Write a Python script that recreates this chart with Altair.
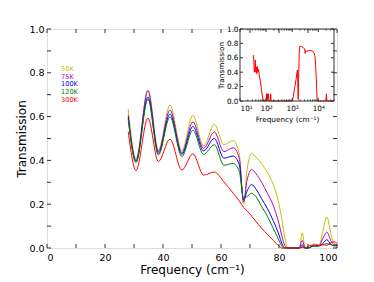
import altair as alt
import pandas as pd

# ---------------- data ----------------
temps = ["50K", "75K", "100K", "120K", "300K"]
colors = ["#bfbf00", "#bf00bf", "#0000ff", "#008000", "#ff0000"]

freq = [28, 30.7, 34.8, 38.4, 42.4, 46.5, 50.3, 54, 57.7, 61,
        64.2, 66.3, 67.8, 69, 70.6, 72, 74, 76, 78, 80,
        81, 82, 83, 84, 86, 87, 88, 89, 90, 91,
        92, 93, 94, 95, 96.5, 98, 99, 100]

t50 = [0.634, 0.408, 0.722, 0.448, 0.652, 0.445, 0.605, 0.465, 0.565, 0.472,
       0.490, 0.430, 0.200, 0.360, 0.432, 0.415, 0.385, 0.345, 0.290, 0.200,
       0.130, 0.050, 0.000, 0.000, 0.000, 0.000, 0.069, 0.005, 0.000, 0.008,
       0.020, 0.012, 0.018, 0.070, 0.142, 0.060, 0.020, 0.015]
t75 = [0.607, 0.400, 0.718, 0.440, 0.630, 0.435, 0.576, 0.455, 0.530, 0.440,
       0.458, 0.410, 0.210, 0.310, 0.358, 0.340, 0.300, 0.250, 0.195, 0.110,
       0.055, 0.012, 0.000, 0.000, 0.000, 0.000, 0.035, 0.000, 0.000, 0.005,
       0.015, 0.010, 0.012, 0.040, 0.073, 0.030, 0.015, 0.015]
t100 = [0.597, 0.395, 0.690, 0.432, 0.612, 0.428, 0.555, 0.443, 0.500, 0.410,
        0.420, 0.380, 0.220, 0.260, 0.290, 0.270, 0.225, 0.180, 0.125, 0.060,
        0.020, 0.000, 0.000, 0.000, 0.000, 0.000, 0.015, 0.000, 0.000, 0.005,
        0.010, 0.008, 0.010, 0.020, 0.038, 0.015, 0.010, 0.012]
t120 = [0.588, 0.390, 0.680, 0.425, 0.598, 0.418, 0.538, 0.427, 0.472, 0.378,
        0.386, 0.350, 0.225, 0.235, 0.250, 0.235, 0.190, 0.145, 0.090, 0.035,
        0.008, 0.000, 0.000, 0.000, 0.000, 0.000, 0.005, 0.000, 0.000, 0.005,
        0.008, 0.010, 0.012, 0.015, 0.020, 0.015, 0.010, 0.010]
t300 = [0.531, 0.354, 0.593, 0.395, 0.497, 0.356, 0.430, 0.333, 0.347, 0.302,
        0.250, 0.215, 0.185, 0.170, 0.145, 0.122, 0.090, 0.062, 0.035, 0.008,
        0.000, 0.000, 0.000, 0.000, 0.000, 0.000, 0.003, 0.000, 0.008, 0.012,
        0.010, 0.015, 0.012, 0.015, 0.012, 0.025, 0.028, 0.022]

# inset (log frequency) – 300 K broad-band transmission
inset_freq = [32, 34, 35.5, 37, 38.5, 40, 42, 44, 46, 48, 51, 55, 60, 66, 72, 78,
              100, 104, 108, 112, 116, 122, 128, 145, 150, 155, 350, 380, 400,
              1000, 1100, 1200, 1300, 1400, 1500, 1580, 1640, 1700, 1760, 1850,
              1950, 2300, 2700, 3000, 3150, 3300, 3700, 4300, 5200, 6200, 7000,
              7600, 8300, 9000, 9500, 19500, 20500, 21500, 40000]
inset_trans = [0.64, 0.55, 0.40, 0.43, 0.57, 0.40, 0.47, 0.38, 0.48, 0.40, 0.44, 0.35,
               0.28, 0.17, 0.07, 0.0,
               0.0, 0.10, 0.0, 0.10, 0.02, 0.10, 0.0, 0.0, 0.10, 0.0, 0.0, 0.01, 0.0,
               0.0, 0.06, 0.15, 0.22, 0.30, 0.38, 0.43, 0.25, 0.02, 0.30, 0.65,
               0.76, 0.755, 0.74, 0.72, 0.66, 0.70, 0.69, 0.70, 0.70, 0.69, 0.66,
               0.60, 0.35, 0.02, 0.0, 0.0, 0.10, 0.0, 0.0]

x_ticks = [0, 10, 20, 30, 40, 50, 60, 70, 80, 90, 100]
x_labels = [0, 20, 40, 60, 80, 100]
y_ticks = [0, 0.1, 0.2, 0.3, 0.4, 0.5, 0.6, 0.7, 0.8, 0.9, 1.0]
y_labels = [0, 0.2, 0.4, 0.6, 0.8, 1.0]
ix_major = [10, 100, 1000, 10000]
ix_minor = [20, 30, 40, 50, 60, 70, 80, 90, 200, 300, 400, 500, 600, 700, 800, 900,
            2000, 3000, 4000, 5000, 6000, 7000, 8000, 9000, 20000, 30000, 40000]
iy_ticks = [0, 0.2, 0.4, 0.6, 0.8, 1.0]

# ---------------- layout ----------------
W, H = 290, 219
IX0, IX1 = 193, 287      # inset x range inside plot area
IY1 = 72                 # inset bottom inside plot area
FC = "#333333"
FONT = "DejaVu Sans"

rows = []
for T, vals in zip(temps, [t50, t75, t100, t120, t300]):
    for f, v in zip(freq, vals):
        rows.append({"f": f, "t": v, "T": T})
main_df = pd.DataFrame(rows)

xs = alt.Scale(domain=[0, 100], nice=False, zero=False)
ys = alt.Scale(domain=[0, 1], nice=False)

main_x_axis = alt.Axis(
    values=x_labels, ticks=False, domain=False, grid=False,
    labelFontSize=9.5, labelPadding=4, labelFont=FONT, labelColor="black",
    title="Frequency (cm⁻¹)", titleFontSize=12, titleFont=FONT,
    titleFontWeight="normal", titleColor="black", titlePadding=3)
main_y_axis = alt.Axis(
    values=y_labels, format=".1f", ticks=False, domain=False, grid=False,
    labelFontSize=9.5, labelPadding=3, labelFont=FONT, labelColor="black",
    title="Transmission", titleFontSize=12, titleFont=FONT,
    titleFontWeight="normal", titleColor="black", titlePadding=0)

lines = alt.Chart(main_df).mark_line(strokeWidth=1, interpolate="monotone").encode(
    x=alt.X("f:Q", scale=xs, axis=main_x_axis),
    y=alt.Y("t:Q", scale=ys, axis=main_y_axis),
    color=alt.Color("T:N", scale=alt.Scale(domain=temps, range=colors), legend=None),
)

xt_df = pd.DataFrame({"f": x_ticks})
yt_df = pd.DataFrame({"t": y_ticks})
tick_kw = dict(color=FC, strokeWidth=1)
xb = alt.Chart(xt_df).mark_rule(**tick_kw).encode(
    x=alt.X("f:Q", scale=xs, axis=main_x_axis), y=alt.value(H), y2=alt.value(H - 4))
xtop = alt.Chart(xt_df).mark_rule(**tick_kw).encode(
    x=alt.X("f:Q", scale=xs, axis=main_x_axis), y=alt.value(0), y2=alt.value(4))
yl = alt.Chart(yt_df).mark_rule(**tick_kw).encode(
    y=alt.Y("t:Q", scale=ys, axis=main_y_axis), x=alt.value(0), x2=alt.value(4))
yr = alt.Chart(yt_df).mark_rule(**tick_kw).encode(
    y=alt.Y("t:Q", scale=ys, axis=main_y_axis), x=alt.value(W), x2=alt.value(W - 4))

main = alt.layer(lines, xb, xtop, yl, yr)

# ---------------- inset ----------------
ixs = alt.Scale(type="log", domain=[10, 40000], range=[IX0, IX1], nice=False)
iys = alt.Scale(domain=[0, 1], range=[IY1, 0], nice=False)

sup = "datum.value == 10 ? '10¹' : datum.value == 100 ? '10²' : datum.value == 1000 ? '10³' : '10⁴'"
ins_x_axis = alt.Axis(
    orient="bottom", offset=IY1 - H, values=ix_major, labelExpr=sup,
    ticks=False, domain=False, grid=False, labelFontSize=7.3, labelPadding=3,
    labelFont=FONT, labelColor="black", title="Frequency (cm⁻¹)",
    titleFontSize=7.3, titleFont=FONT, titleFontWeight="normal",
    titleColor="black", titlePadding=4)
ins_y_axis = alt.Axis(
    orient="left", offset=-IX0, values=iy_ticks, format=".1f",
    ticks=False, domain=False, grid=False, labelFontSize=7.3, labelPadding=2,
    labelFont=FONT, labelColor="black", title="Transmission",
    titleFontSize=7.3, titleFont=FONT, titleFontWeight="normal",
    titleColor="black", titlePadding=1)

ins_df = pd.DataFrame({"fi": inset_freq, "ti": inset_trans})
ins_line = alt.Chart(ins_df).mark_line(color="#ff0000", strokeWidth=1).encode(
    x=alt.X("fi:Q", scale=ixs, axis=ins_x_axis),
    y=alt.Y("ti:Q", scale=iys, axis=ins_y_axis),
)

frame_df = pd.DataFrame({"fi": [10], "fi2": [40000], "ti": [0], "ti2": [1]})
ins_frame = alt.Chart(frame_df).mark_rect(fill="transparent", stroke=FC, strokeWidth=1).encode(
    x=alt.X("fi:Q", scale=ixs, axis=ins_x_axis), x2="fi2:Q",
    y=alt.Y("ti:Q", scale=iys, axis=ins_y_axis), y2="ti2:Q")

maj_df = pd.DataFrame({"fi": ix_major})
min_df = pd.DataFrame({"fi": ix_minor})
iyt_df = pd.DataFrame({"ti": iy_ticks})
ins_ticks = [
    alt.Chart(maj_df).mark_rule(**tick_kw).encode(
        x=alt.X("fi:Q", scale=ixs, axis=ins_x_axis), y=alt.value(IY1), y2=alt.value(IY1 - 3)),
    alt.Chart(maj_df).mark_rule(**tick_kw).encode(
        x=alt.X("fi:Q", scale=ixs, axis=ins_x_axis), y=alt.value(0), y2=alt.value(3)),
    alt.Chart(min_df).mark_rule(**tick_kw).encode(
        x=alt.X("fi:Q", scale=ixs, axis=ins_x_axis), y=alt.value(IY1), y2=alt.value(IY1 - 1.5)),
    alt.Chart(min_df).mark_rule(**tick_kw).encode(
        x=alt.X("fi:Q", scale=ixs, axis=ins_x_axis), y=alt.value(0), y2=alt.value(1.5)),
    alt.Chart(iyt_df).mark_rule(**tick_kw).encode(
        y=alt.Y("ti:Q", scale=iys, axis=ins_y_axis), x=alt.value(IX0), x2=alt.value(IX0 + 3)),
    alt.Chart(iyt_df).mark_rule(**tick_kw).encode(
        y=alt.Y("ti:Q", scale=iys, axis=ins_y_axis), x=alt.value(IX1), x2=alt.value(IX1 - 3)),
]
inset = alt.layer(ins_line, ins_frame, *ins_ticks)

# ---------------- text legend ----------------
leg_df = pd.DataFrame({"T": temps})
legend = alt.Chart(leg_df).mark_text(align="left", baseline="middle", fontSize=6.6, font=FONT).encode(
    x=alt.value(14),
    y=alt.Y("T:N", scale=alt.Scale(type="point", domain=temps, range=[39.8, 71], padding=0), axis=None),
    text="T:N",
    color=alt.Color("T:N", scale=alt.Scale(domain=temps, range=colors), legend=None),
)

chart = alt.layer(main, inset, legend).resolve_scale(
    x="independent", y="independent", color="independent"
).properties(
    width=W, height=H,
    autosize=alt.AutoSizeParams(type="none"),
    padding={"left": 39, "top": 21, "right": 29, "bottom": 34},
).configure_view(stroke=FC, strokeWidth=1).configure(background="white")

chart.save("out.html", embed_options={"renderer": "svg", "actions": False})
